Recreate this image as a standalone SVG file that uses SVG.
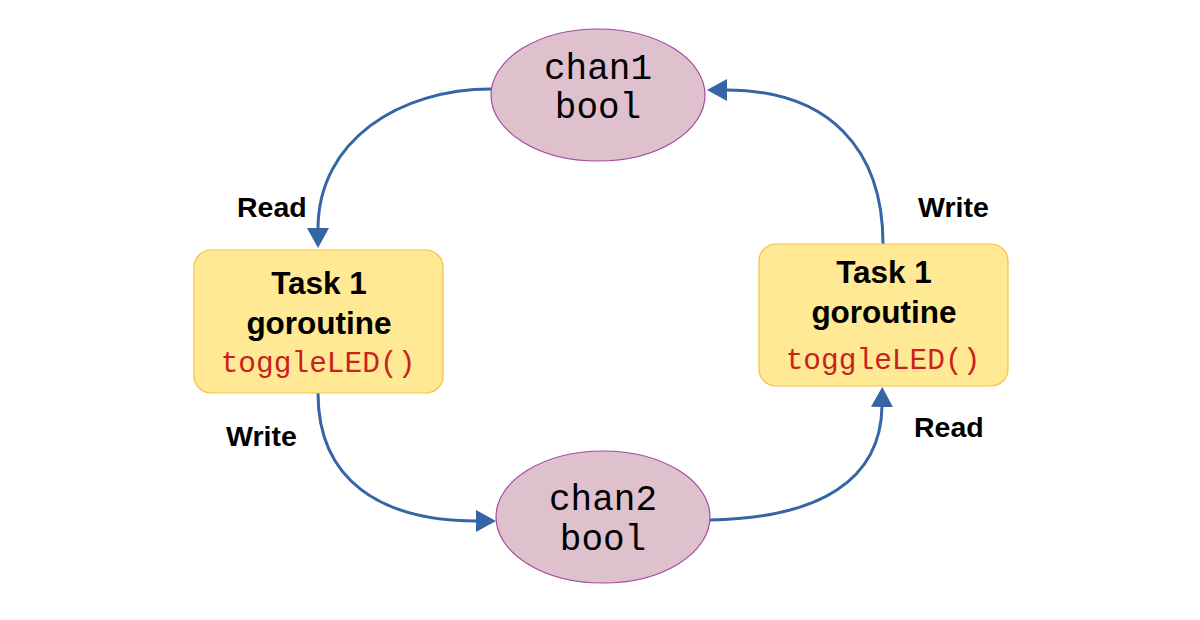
<svg xmlns="http://www.w3.org/2000/svg" width="1200" height="620" viewBox="0 0 1200 620">
<defs>
<style>
.chan{fill:#dfc1cd;stroke:#a349a4;stroke-width:1.2}
.task{fill:#ffe994;stroke:#f5bf48;stroke-width:1.2}
.mono{font-family:"Liberation Mono","DejaVu Sans Mono",monospace;text-anchor:middle}
.big{font-size:36px;fill:#000}
.fn{font-size:29.5px;fill:#c9211e}
.bold{font-family:"Liberation Sans",Arial,sans-serif;font-weight:bold;fill:#000}
.title{font-size:31.5px;text-anchor:middle}
.lbl{font-size:28.5px}
.conn{fill:none;stroke:#3465a4;stroke-width:3}
</style>
<marker id="arr" viewBox="0 0 20 22" refX="1" refY="11" markerWidth="20" markerHeight="22" markerUnits="userSpaceOnUse" orient="auto">
<path d="M0,0 L20,11 L0,22 Z" fill="#3465a4"/>
</marker>
</defs>
<rect width="1200" height="620" fill="#ffffff"/>
<g id="connectors">
<path class="conn" d="M491,89 C400,89 318,140 318,229" marker-end="url(#arr)"/>
<path class="conn" d="M883,244 C883,150 830,90 726,90" marker-end="url(#arr)"/>
<path class="conn" d="M318,393 C318,480 380,521 477,521" marker-end="url(#arr)"/>
<path class="conn" d="M710,520 C820,518 881,480 882,406" marker-end="url(#arr)"/>
</g>
<g id="chan1">
<ellipse class="chan" cx="598" cy="95" rx="107" ry="66"/>
<text class="mono big" x="598" y="79">chan1</text>
<text class="mono big" x="598" y="118">bool</text>
</g>
<g id="chan2">
<ellipse class="chan" cx="603" cy="517" rx="107" ry="66"/>
<text class="mono big" x="603" y="510">chan2</text>
<text class="mono big" x="603" y="550">bool</text>
</g>
<g id="task-left">
<rect class="task" x="194" y="250" width="249" height="143" rx="17"/>
<text class="bold title" x="319" y="294">Task 1</text>
<text class="bold title" x="319" y="334">goroutine</text>
<text class="mono fn" x="318" y="372">toggleLED()</text>
</g>
<g id="task-right">
<rect class="task" x="759" y="244" width="249" height="142" rx="17"/>
<text class="bold title" x="884" y="283">Task 1</text>
<text class="bold title" x="884" y="323">goroutine</text>
<text class="mono fn" x="883" y="369">toggleLED()</text>
</g>
<g id="labels">
<text class="bold lbl" x="237" y="217">Read</text>
<text class="bold lbl" x="226" y="446">Write</text>
<text class="bold lbl" x="918" y="217">Write</text>
<text class="bold lbl" x="914" y="437">Read</text>
</g>
</svg>
